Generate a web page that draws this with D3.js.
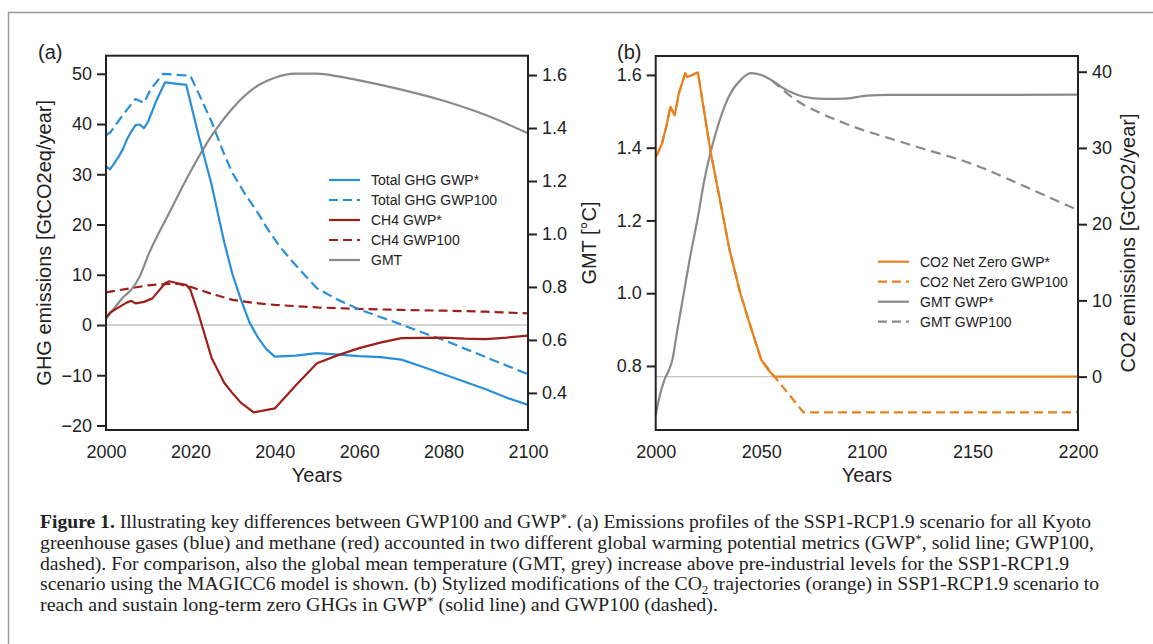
<!DOCTYPE html>
<html><head><meta charset="utf-8">
<script src="https://cdn.jsdelivr.net/npm/d3@7"></script>
<style>body{margin:0;background:#fff;} svg{display:block;}</style>
</head><body>
<svg id="chart" width="1153" height="644"></svg>
<script>
// ---------- Panel (a) data ----------
const ghgStarYears = [2000,2001,2003,2004,2005,2006,2007,2008,2009,2010,2012,2014,2016,2019,2022,2025,2028,2030,2032,2034,2036,2038,2040,2045,2050,2055,2060,2065,2070,2075,2080,2085,2090,2095,2100];
const ghgStarValues = [31.5,31,33.5,35,37,38.5,39.8,39.9,39.2,40.5,44.8,48.3,48.1,47.8,37.5,28,16.5,10,5,0.5,-2.5,-4.8,-6.3,-6.1,-5.6,-5.9,-6.2,-6.4,-6.9,-8.3,-9.8,-11.3,-12.8,-14.5,-15.9];
const ghg100Years = [2000,2001,2004,2007,2009,2010.5,2013.5,2020,2022,2025,2028,2030,2033,2036,2038,2041,2044,2047,2050,2055,2060,2065,2070,2075,2080,2085,2090,2095,2100];
const ghg100Values = [37.8,38.3,41.8,45,44.2,46.8,50,49.6,46,40.5,34,30.2,26,22.3,19.5,15.8,12.8,10,7.3,5,3.1,1.6,0.1,-1.5,-3,-4.7,-6.4,-8.1,-9.8];
const ch4StarYears = [2000,2001,2003,2005,2006,2007,2009,2011,2012,2014,2015,2017,2019,2020,2022,2025,2028,2030,2032,2035,2040,2045,2050,2055,2060,2065,2070,2080,2085,2090,2095,2100];
const ch4StarValues = [1.5,2.5,3.5,4.5,4.8,4.3,4.6,5.3,6.3,8.3,8.7,8.3,8,7,2,-6.5,-11.5,-13.6,-15.5,-17.4,-16.6,-12,-7.6,-6,-4.6,-3.5,-2.6,-2.5,-2.7,-2.8,-2.5,-2.1];
const ch4100Years = [2000,2005,2010,2015,2017,2020,2025,2030,2035,2040,2050,2060,2070,2080,2090,2100];
const ch4100Values = [6.5,7.2,7.9,8.2,8.2,7.6,6.2,5,4.4,4.0,3.5,3.2,3.0,2.85,2.65,2.3];
const gmtAYears = [2000,2002,2004,2006,2008,2010,2015,2020,2025,2030,2035,2040,2045,2050,2055,2060,2070,2080,2090,2100];
const gmtAValues = [0.68,0.72,0.76,0.79,0.84,0.92,1.08,1.235,1.37,1.475,1.55,1.59,1.605,1.605,1.595,1.58,1.545,1.503,1.449,1.38];
const aLeftTicks = [-20,-10,0,10,20,30,40,50];
const aRightTicks = [0.4,0.6,0.8,1.0,1.2,1.4,1.6];
const aXTicks = [2000,2020,2040,2060,2080,2100];
const aLegend = ["Total GHG GWP*","Total GHG GWP100","CH4 GWP*","CH4 GWP100","GMT"];

// ---------- Panel (b) data ----------
const co2StarYears = [2000,2001,2003,2005,2007,2009,2011,2014,2015,2020,2026,2030,2035,2040,2045,2050,2053,2056,2200];
const co2StarValues = [28.8,29.3,30.6,32.8,35.4,34.3,37.2,39.8,39.3,39.9,29.5,23.8,16.6,11,6.5,2.2,1,0,0];
const co2100Years = [2000,2001,2003,2005,2007,2009,2011,2014,2015,2020,2026,2030,2035,2040,2045,2050,2056,2070,2200];
const co2100Values = [28.8,29.3,30.6,32.8,35.4,34.3,37.2,39.8,39.3,39.9,29.5,23.8,16.6,11,6.5,2.2,0.1,-4.7,-4.7];
const gmtStarYears = [2000,2002,2004,2006,2008,2010,2013,2016,2020,2023,2027,2030,2035,2040,2045,2050,2055,2060,2065,2070,2080,2090,2100,2110,2150,2200];
const gmtStarValues = [0.665,0.72,0.76,0.785,0.82,0.89,0.99,1.09,1.21,1.31,1.41,1.47,1.545,1.585,1.605,1.6,1.585,1.565,1.55,1.54,1.534,1.535,1.543,1.545,1.545,1.546];
const gmt100Years = [2055,2060,2065,2070,2080,2090,2100,2110,2125,2150,2175,2200];
const gmt100Values = [1.585,1.56,1.537,1.518,1.49,1.466,1.445,1.427,1.40,1.355,1.293,1.228];
const bLeftTicks = [0.8,1.0,1.2,1.4,1.6];
const bRightTicks = [0,10,20,30,40];
const bXTicks = [2000,2050,2100,2150,2200];
const bLegend = ["CO2 Net Zero GWP*","CO2 Net Zero GWP100","GMT GWP*","GMT GWP100"];

// ---------- styles ----------
const BLUE = "#2a8fd8", RED = "#9e1f1a", GRAY = "#8a8a8a", ORANGE = "#e6821e", AX = "#222";
const SANS = "'Liberation Sans', Arial, Helvetica, sans-serif";
const SERIF = "'Liberation Serif', 'Times New Roman', serif";

const svg = d3.select("#chart");
// outer frame
svg.append("rect").attr("x",8.5).attr("y",12.5).attr("width",1200).attr("height",700)
  .attr("fill","none").attr("stroke","#9a9a9a").attr("stroke-width",1.5);

function zip(xs, ys){ return xs.map((x,i)=>[x, ys[i]]); }

function drawPanel(cfg){
  const g = svg.append("g");
  const {x, yL, yR} = cfg;
  const [x0,x1] = x.range(); const [yb, yt] = yL.range();
  g.append("line").attr("x1",x0).attr("x2",x1).attr("y1",cfg.zeroY).attr("y2",cfg.zeroY)
    .attr("stroke","#c4c4c4").attr("stroke-width",1.3);
  cfg.series.forEach(s=>{
    const line = d3.line().x(d=>x(d[0])).y(d=>s.scale(d[1]));
    if (s.smooth) line.curve(d3.curveMonotoneX);
    g.append("path").attr("d", line(zip(s.xs, s.ys))).attr("fill","none")
      .attr("stroke", s.color).attr("stroke-width", 2.2)
      .attr("stroke-dasharray", s.dash || null).attr("stroke-linejoin","round");
  });
  g.append("rect").attr("x",x0).attr("y",yt).attr("width",x1-x0).attr("height",yb-yt)
    .attr("fill","none").attr("stroke",AX).attr("stroke-width",2);
  const styleAxis = (sel)=>{
    sel.select(".domain").remove();
    sel.selectAll(".tick line").attr("stroke",AX).attr("stroke-width",2);
    sel.selectAll(".tick text").attr("fill",AX).style("font-family",SANS).style("font-size","18px");
  };
  g.append("g").attr("transform",`translate(${x0},0)`)
    .call(d3.axisLeft(yL).tickValues(cfg.leftTicks).tickFormat(cfg.leftFmt).tickSize(9).tickPadding(5).tickSizeOuter(0))
    .call(styleAxis);
  g.append("g").attr("transform",`translate(${x1},0)`)
    .call(d3.axisRight(yR).tickValues(cfg.rightTicks).tickFormat(cfg.rightFmt).tickSize(9).tickPadding(5).tickSizeOuter(0))
    .call(styleAxis);
  g.append("g").attr("transform",`translate(0,${yb})`)
    .call(d3.axisBottom(x).tickValues(cfg.xTicks).tickFormat(d3.format("d")).tickSize(0).tickPadding(15).tickSizeOuter(0))
    .call(styleAxis);
  g.append("text").attr("x",cfg.tagX).attr("y",59).text(cfg.tag)
    .style("font-family",SANS).style("font-size","20px").attr("fill",AX);
  g.append("text").attr("x",(x0+x1)/2).attr("y",482).attr("text-anchor","middle").text("Years")
    .style("font-family",SANS).style("font-size","20px").attr("fill",AX);
  if (cfg.leftTitle) g.append("text").attr("transform",`translate(${cfg.leftTitleX},${(yb+yt)/2}) rotate(-90)`)
    .attr("text-anchor","middle").attr("dominant-baseline","central").text(cfg.leftTitle)
    .style("font-family",SANS).style("font-size","20px").attr("fill",AX);
  if (cfg.rightTitle) g.append("text").attr("transform",`translate(${cfg.rightTitleX},${(yb+yt)/2}) rotate(-90)`)
    .attr("text-anchor","middle").attr("dominant-baseline","central").text(cfg.rightTitle)
    .style("font-family",SANS).style("font-size","20px").attr("fill",AX);
  cfg.legend.forEach((name,i)=>{
    const s = cfg.legendStyles[i];
    const yy = cfg.legY + i*20;
    g.append("line").attr("x1",cfg.legX).attr("x2",cfg.legX+31).attr("y1",yy).attr("y2",yy)
      .attr("stroke",s.color).attr("stroke-width",2.2).attr("stroke-dasharray",s.dash||null);
    g.append("text").attr("x",cfg.legX+42).attr("y",yy).attr("dominant-baseline","central").text(name)
      .style("font-family",SANS).style("font-size","14px").attr("fill",AX);
  });
}

// Panel (a)
const xa = d3.scaleLinear().domain([2000,2100]).range([106,528]);
const yaL = d3.scaleLinear().domain([-20.9,53.6]).range([430,55.7]);
const yaR = d3.scaleLinear().domain([0.26,1.673]).range([430,55.7]);
drawPanel({
  x: xa, yL: yaL, yR: yaR, zeroY: yaL(0),
  leftTicks: aLeftTicks, rightTicks: aRightTicks, xTicks: aXTicks,
  leftFmt: d3.format("d"), rightFmt: d3.format(".1f"),
  series: [
    {xs: ch4100Years, ys: ch4100Values, scale: yaL, color: RED, dash: "9,5"},
    {xs: ghg100Years, ys: ghg100Values, scale: yaL, color: BLUE, dash: "10,5"},
    {xs: gmtAYears, ys: gmtAValues, scale: yaR, color: GRAY, smooth: true},
    {xs: ghgStarYears, ys: ghgStarValues, scale: yaL, color: BLUE},
    {xs: ch4StarYears, ys: ch4StarValues, scale: yaL, color: RED}
  ],
  tag: "(a)", tagX: 38,
  leftTitle: "GHG emissions [GtCO2eq/year]", leftTitleX: 44,
  legend: aLegend, legX: 329, legY: 180,
  legendStyles: [{color:BLUE},{color:BLUE,dash:"9,5"},{color:RED},{color:RED,dash:"9,5"},{color:GRAY}]
});

// Panel (b)
const xb = d3.scaleLinear().domain([2000,2200]).range([655.7,1078]);
const ybL = d3.scaleLinear().domain([0.624,1.652]).range([430,56]);
const ybR = d3.scaleLinear().domain([-7.0,42.06]).range([430,56]);
drawPanel({
  x: xb, yL: ybL, yR: ybR, zeroY: ybR(0),
  leftTicks: bLeftTicks, rightTicks: bRightTicks, xTicks: bXTicks,
  leftFmt: d3.format(".1f"), rightFmt: d3.format("d"),
  series: [
    {xs: co2100Years, ys: co2100Values, scale: ybR, color: ORANGE, dash: "9,5"},
    {xs: gmt100Years, ys: gmt100Values, scale: ybL, color: GRAY, dash: "10,6", smooth: true},
    {xs: gmtStarYears, ys: gmtStarValues, scale: ybL, color: GRAY, smooth: true},
    {xs: co2StarYears, ys: co2StarValues, scale: ybR, color: ORANGE}
  ],
  tag: "(b)", tagX: 617,
  leftTitle: "GMT [°C]", leftTitleX: 589,
  rightTitle: "CO2 emissions [GtCO2/year]", rightTitleX: 1128,
  legend: bLegend, legX: 878, legY: 261.7,
  legendStyles: [{color:ORANGE},{color:ORANGE,dash:"9,5"},{color:GRAY},{color:GRAY,dash:"9,5"}]
});

// ---------- Caption ----------
const captionLines = [
  [["b","Figure 1."],["n"," Illustrating key differences between GWP100 and GWP"],["sup","*"],["n",". (a) Emissions profiles of the SSP1-RCP1.9 scenario for all Kyoto"]],
  [["n","greenhouse gases (blue) and methane (red) accounted in two different global warming potential metrics (GWP"],["sup","*"],["n",", solid line; GWP100,"]],
  [["n","dashed). For comparison, also the global mean temperature (GMT, grey) increase above pre-industrial levels for the SSP1-RCP1.9"]],
  [["n","scenario using the MAGICC6 model is shown. (b) Stylized modifications of the CO"],["sub","2"],["n"," trajectories (orange) in SSP1-RCP1.9 scenario to"]],
  [["n","reach and sustain long-term zero GHGs in GWP"],["sup","*"],["n"," (solid line) and GWP100 (dashed)."]]
];
const captionEnds = [1091,1094,1069,1099,718];
captionLines.forEach((parts,i)=>{
  const t = svg.append("text").attr("x",40).attr("y",528+i*20.8)
    .style("font-family",SERIF).style("font-size","18.5px").attr("fill","#222");
  parts.forEach(([k,s])=>{
    const ts = t.append("tspan").text(s);
    if (k==="b") ts.attr("font-weight","bold");
    if (k==="sup") ts.attr("baseline-shift","6").style("font-size","12px");
    if (k==="sub") ts.attr("baseline-shift","-4").style("font-size","12px");
  });
  t.attr("textLength", captionEnds[i]-40).attr("lengthAdjust","spacingAndGlyphs");
});
</script>
</body></html>
